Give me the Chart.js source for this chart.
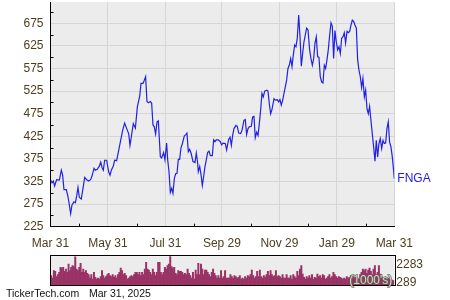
<!DOCTYPE html>
<html>
<head>
<meta charset="utf-8">
<script src="https://cdn.jsdelivr.net/npm/chart.js@4.4.1/dist/chart.umd.min.js"></script>
<style>
html, body { margin: 0; padding: 0; background: #fff; }
#wrap { position: relative; width: 450px; height: 300px; }
#wrap canvas { position: absolute; left: 0; top: 0; }
</style>
</head>
<body>
<div id="wrap">
<canvas id="price" width="450" height="300"></canvas>
<canvas id="volume" width="450" height="300"></canvas>
</div>
<script>
// days since Mar 31, 2024 and closing price
var days = [0, 1.6, 3.0, 4.4, 6.5, 9.4, 11.5, 12.9, 14.3, 16.8, 18.6, 20.0, 21.4, 22.8, 24.9, 26.4, 27.8, 29.2, 30.6, 32.7,
    34.2, 36.3, 38.4, 40.5, 42.6, 44.1, 46.2, 47.6, 49.7, 51.8, 53.3, 54.7, 56.1, 57.5, 59.6, 61.8, 63.2, 64.6, 66.7, 68.1,
    70.2, 72.4, 74.5, 76.6, 78.7, 80.9, 83.0, 84.4, 85.8, 87.9, 90.1, 92.2,
    94.7, 96.1, 98.2, 99.6, 101.0, 102.4, 103.9, 106.0, 107.4, 108.8, 110.2, 111.6, 113.1, 114.5, 116.6, 118.0, 120.1, 121.5, 123.3, 124.4,
    125.8, 127.2, 128.6, 130.0, 131.5, 132.9, 134.3, 135.7, 137.1, 138.5, 139.9, 142.1, 143.5, 144.9, 146.3, 147.7, 149.2, 151.3, 153.4, 154.8,
    156.2, 156.9, 158.4, 159.8, 161.2, 162.6, 164.0, 165.4, 166.8, 168.3, 169.7, 171.8, 173.2, 174.6, 176.0, 178.2, 180.3, 181.7, 183.1,
    185.6, 187.0, 189.1, 190.6, 192.0, 193.4, 194.8, 196.9, 198.3, 199.8, 201.9, 203.3, 205.4, 206.8, 208.2, 209.7, 211.1, 213.2, 214.6, 216.0,
    217.4, 218.9, 220.3, 221.7, 223.1, 224.5, 225.9, 227.4, 229.5, 230.9, 232.3, 233.7, 235.1, 237.3, 238.7, 240.8, 242.2, 243.6, 245.0, 246.5,
    247.9, 249.3, 250.7, 252.1, 253.5, 255.0, 256.4, 257.8, 259.2, 260.6, 262.0, 263.5, 264.9, 266.3, 267.7, 269.1, 270.5, 271.9, 273.4,
    275.1, 276.5, 278.0, 279.4, 280.8, 282.2, 283.6, 285.0, 286.4, 287.9, 289.3, 290.7, 292.1, 293.5, 294.9, 296.4, 297.8, 299.2, 300.6, 302.0,
    303.4, 304.9, 306.3, 307.7, 309.1, 310.5, 311.9, 313.3, 314.8, 316.2, 317.6, 319.0, 320.4, 321.8, 323.2, 324.7, 326.1, 327.5, 328.9, 330.3,
    331.7, 333.2, 334.6, 336.0, 337.4, 338.8, 340.2, 341.6, 343.1, 344.5, 345.9, 347.3, 348.7, 350.1, 351.6, 353.0, 354.4, 355.8, 357.2, 358.6,
    360.0, 361.5, 362.9, 364.3, 365];

var prices = [329, 322, 326, 315, 329, 328, 350, 339, 307, 307, 291, 273, 254, 273, 280, 278, 293, 312, 290, 286,
    306, 334, 329, 326, 329, 337, 354, 350, 352, 359, 368, 356, 350, 372, 372, 346, 339, 350, 359, 372,
    371, 394, 416, 438, 454, 442, 431, 405, 424, 453, 443, 490,
    514, 542, 542, 549, 557, 502, 499, 502, 498, 450, 446, 430, 457, 459, 380, 377, 389, 373, 410, 373,
    347, 301, 310, 299, 332, 342, 343, 374, 374, 399, 408, 426, 428, 432, 391, 396, 388, 369, 367, 388,
    367, 347, 358, 340, 316, 336, 358, 373, 389, 392, 382, 382, 417, 413, 417, 417, 413, 406, 410,
    409, 395, 418, 423, 405, 427, 442, 449, 447, 432, 431, 438, 460, 462, 429, 442, 446, 447, 468, 469,
    422, 434, 427, 453, 483, 520, 512, 525, 527, 525, 497, 475, 484, 508, 505, 506, 501, 506, 494, 505,
    520, 534, 549, 575, 582, 597, 579, 605, 627, 623, 642, 693, 645, 580, 608, 634, 649, 664, 660,
    616, 597, 582, 597, 631, 645, 601, 600, 557, 545, 543, 582, 575, 594, 616, 649, 676, 668, 597, 659,
    634, 616, 623, 608, 642, 645, 654, 631, 657, 654, 657, 671, 682, 679, 671, 664, 594, 571, 557, 533,
    553, 512, 527, 486, 475, 491, 460, 431, 401, 370, 416, 379, 409, 420, 398, 416, 409, 410, 442, 457,
    412, 401, 379, 349, 331];

// daily volume, thousands of shares
var volume = [1025, 770, 1575, 1500, 915, 1135, 1390, 1940, 1870, 1940, 1500, 1760, 1390, 2300, 1575, 1940, 2120, 2010, 3110, 1760,
    1575, 1940, 2380, 1390, 1760, 1390, 1575, 1280, 1135, 770, 1135, 660, 1390, 840, 660, 770, 660, 915, 1575, 1025,
    770, 915, 1135, 1280, 1025, 915, 1135, 840, 1025, 770, 1135, 1390, 1870, 1575, 1135, 1280, 1025, 660, 770, 915,
    1025, 915, 1135, 1390, 1390, 1135, 1390, 1025, 1390, 1135, 1760, 2490, 1760, 1650, 1390, 1135, 1760, 1390, 1025, 1390,
    2490, 2490, 1390, 1135, 1390, 1940, 1760, 2120, 2300, 3150,
    2010, 1870, 1940, 1280, 1135, 1575, 1500, 1500, 1390, 1135, 1280, 1135, 1760, 1280, 1025, 770, 1390, 660, 1650, 1135,
    2380, 1135, 2300, 1760, 1135, 1650, 1650, 1390, 1135, 915, 1390, 1760, 1280, 1025, 770, 1025, 770, 1575, 770, 915,
    1575, 770, 770, 770, 1135, 915, 770, 1025, 915, 770, 840, 1025, 660, 770, 660, 915, 770, 1025, 915, 1135,
    1650, 1025, 770, 915, 1500, 915, 1650, 915, 770, 1025, 840, 1135, 1500, 1025, 1575, 1135, 915, 1025, 1575, 915,
    1025, 915, 770, 1135, 770, 770, 1135, 770,
    770, 1025, 660, 1135, 915, 770, 1500, 1025, 1760, 2120, 1210, 840, 660, 915, 770, 1025, 770, 1135, 660, 840,
    770, 1210, 915, 1025, 770, 1135, 1025, 660, 770, 915, 1135, 770, 915, 1390, 1135, 915, 770, 915, 840, 770,
    660, 770, 660, 915, 770, 840, 1025, 770, 915, 770, 1025, 770, 660, 1135, 1390, 1760, 1575, 1760, 1280, 1650,
    1870, 1500, 1135, 1760, 2120, 1135, 1390, 2120, 1210, 915, 770, 660, 770, 660, 770, 660, 480, 550, 480];

var xTickDays = [0, 61, 122, 182, 243, 304, 365];
var xTickLabels = ['Mar 31', 'May 31', 'Jul 31', 'Sep 29', 'Nov 29', 'Jan 29', 'Mar 31'];
var xMinorDays = [30.5, 91.5, 152, 212.5, 273.5, 334.5];
var yTicks = [225, 275, 325, 375, 425, 475, 525, 575, 625, 675];
var yMinor = [250, 300, 350, 400, 450, 500, 550, 600, 650, 700];
var volTicks = [289, 2283];
var volTickLabels = ['289', '2283'];
var symbol = 'FNGA';

var LABEL_COLOR = '#4d3d1e';
var PLOT_BG = '#ececec';
var GRID = '#d6d6d6';
var LINE = '#2121e6';
var BAR = '#9b3265';

Chart.defaults.font.family = '"Liberation Sans", Arial, sans-serif';
Chart.defaults.font.size = 12;
Chart.defaults.color = LABEL_COLOR;

var plotBackground = {
    id: 'plotBackground',
    beforeDraw: function (chart) {
        var a = chart.chartArea;
        var ctx = chart.ctx;
        ctx.save();
        ctx.fillStyle = PLOT_BG;
        ctx.fillRect(a.left, a.top, a.right - a.left, a.bottom - a.top);
        ctx.restore();
    }
};

// small inward tick marks between the labelled ones
var minorTicks = {
    id: 'minorTicks',
    afterDraw: function (chart) {
        var a = chart.chartArea;
        var ctx = chart.ctx;
        ctx.save();
        ctx.strokeStyle = '#000';
        ctx.lineWidth = 1;
        ctx.beginPath();
        yMinor.forEach(function (v) {
            var y = Math.round(chart.scales.y.getPixelForValue(v)) + 0.5;
            ctx.moveTo(a.left, y);
            ctx.lineTo(a.left + 3, y);
        });
        xMinorDays.forEach(function (v) {
            var x = Math.round(chart.scales.x.getPixelForValue(v)) + 0.5;
            ctx.moveTo(x, a.bottom);
            ctx.lineTo(x, a.bottom - 3);
        });
        ctx.stroke();
        ctx.restore();
    }
};

var symbolLabel = {
    id: 'symbolLabel',
    afterDatasetsDraw: function (chart) {
        var pts = chart.getDatasetMeta(0).data;
        var last = pts[pts.length - 1];
        var ctx = chart.ctx;
        ctx.save();
        ctx.fillStyle = LINE;
        ctx.font = '12px "Liberation Sans", Arial, sans-serif';
        ctx.textBaseline = 'middle';
        ctx.fillText(symbol, last.x + 3, last.y);
        ctx.restore();
    }
};

var volumeFrame = {
    id: 'volumeFrame',
    afterDraw: function (chart) {
        var a = chart.chartArea;
        var ctx = chart.ctx;
        ctx.save();
        ctx.strokeStyle = '#000';
        ctx.lineWidth = 1;
        ctx.strokeRect(Math.round(a.left) - 0.5, Math.round(a.top) - 0.5,
            Math.round(a.right - a.left) + 1, Math.round(a.bottom - a.top) + 1);

        ctx.font = '12px "Liberation Sans", Arial, sans-serif';
        ctx.textBaseline = 'middle';
        ctx.textAlign = 'right';
        ctx.lineWidth = 1.5;
        ctx.strokeStyle = 'rgba(90,105,80,0.85)';
        ctx.strokeText("(1000's)", a.right - 2, a.bottom - 4);
        ctx.fillStyle = '#d2d6cc';
        ctx.fillText("(1000's)", a.right - 2, a.bottom - 4);

        ctx.textAlign = 'left';
        ctx.fillStyle = '#111';
        ctx.font = '10.5px "Liberation Sans", Arial, sans-serif';
        ctx.fillText('TickerTech.com', 6, 294);
        ctx.fillText('Mar 31, 2025', 89, 294);
        ctx.restore();
    }
};

// Chart.js reserves half a label height above/below the axis ends; drop that
function noEndPadding(scale) {
    scale.paddingTop = 0;
    scale.paddingBottom = 0;
}

var points = days.map(function (d, i) {
    return { x: d, y: prices[i] };
});

new Chart(document.getElementById('price'), {
    type: 'line',
    data: {
        datasets: [{
            label: symbol,
            data: points,
            borderColor: LINE,
            borderWidth: 1.2,
            pointRadius: 0,
            tension: 0,
            fill: false
        }]
    },
    options: {
        responsive: false,
        animation: false,
        devicePixelRatio: 1,
        layout: { padding: { left: 0, top: 2, right: 55.7, bottom: 50 } },
        plugins: { legend: { display: false }, tooltip: { enabled: false } },
        scales: {
            x: {
                type: 'linear',
                min: 0,
                max: 365,
                afterBuildTicks: function (scale) {
                    scale.ticks = xTickDays.map(function (v) { return { value: v }; });
                },
                afterFit: function (scale) { scale.height = 23.3; },
                ticks: {
                    autoSkip: false,
                    maxRotation: 0,
                    padding: 10,
                    callback: function (value, index) { return xTickLabels[index]; }
                },
                grid: { color: GRID, drawTicks: false },
                border: { color: '#000' }
            },
            y: {
                min: 225,
                max: 722,
                afterBuildTicks: function (scale) {
                    scale.ticks = yTicks.map(function (v) { return { value: v }; });
                },
                afterFit: function (scale) {
                    scale.width = 50.5;
                    noEndPadding(scale);
                },
                ticks: { padding: 7 },
                grid: { color: GRID, drawTicks: false },
                border: { color: '#000' }
            }
        }
    },
    plugins: [plotBackground, minorTicks, symbolLabel]
});

new Chart(document.getElementById('volume'), {
    type: 'bar',
    data: {
        labels: volume.map(function (v, i) { return i; }),
        datasets: [{
            data: volume,
            backgroundColor: BAR,
            barPercentage: 1,
            categoryPercentage: 1,
            borderWidth: 0
        }]
    },
    options: {
        responsive: false,
        animation: false,
        devicePixelRatio: 1,
        layout: { padding: { left: 50.5, top: 256.3, right: 0, bottom: 15 } },
        plugins: { legend: { display: false }, tooltip: { enabled: false } },
        scales: {
            x: { display: false },
            y: {
                position: 'right',
                min: 0,
                max: 3150,
                afterBuildTicks: function (scale) {
                    scale.ticks = volTicks.map(function (v) { return { value: v }; });
                },
                afterFit: function (scale) {
                    scale.width = 55.7;
                    noEndPadding(scale);
                },
                ticks: {
                    padding: 2,
                    callback: function (value, index) { return volTickLabels[index]; }
                },
                grid: { display: false, drawTicks: false },
                border: { display: false }
            }
        }
    },
    plugins: [plotBackground, volumeFrame]
});
</script>
</body>
</html>
